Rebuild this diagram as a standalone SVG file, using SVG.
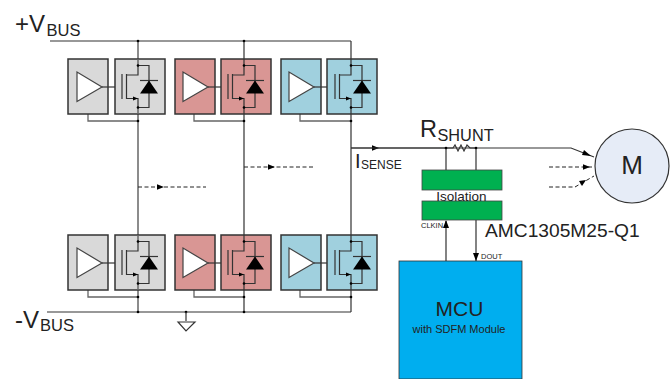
<svg xmlns="http://www.w3.org/2000/svg" xmlns:xlink="http://www.w3.org/1999/xlink" width="670" height="379" viewBox="0 0 670 379">
<style>
text{font-family:"Liberation Sans",Arial,sans-serif;fill:#222}
.w{fill:none;stroke:#333;stroke-width:1.2}
.g{fill:none;stroke:#666;stroke-width:1.5}
.box{stroke:#333;stroke-width:1.5}
.amp{fill:#fff;stroke:#444;stroke-width:1.2}
.d{fill:none;stroke:#222;stroke-width:1;stroke-dasharray:4 2.5}
.gray{fill:#d9d9d9}.red{fill:#d99694}.blue{fill:#a0d0de}
.grn{fill:#00b050;stroke:#444;stroke-width:.8}
.k{fill:#000}
</style>
<defs>
<g id="ampsym">
<path class="amp" d="M77 72V101.500L102 87Z"/>
<path class="w" d="M102 87H122"/>
</g>
<g id="fetsym">
<path class="w" d="M122 74V99M126.500 74V99M126.500 75H138V65.500H149V107.500H138V98.500H126.500"/>
<path class="w" d="M140 80.500H158"/>
<path class="k" d="M140 93.500H158L149 80.500Z"/>
<path class="k" d="M138 98.500L133 96.500V100.500Z"/>
<circle class="k" cx="138" cy="65.500" r="1.3"/>
<circle class="k" cx="138" cy="107.500" r="1.3"/>
</g>
<path id="ah" class="k" d="M0 0L-7 -2.800V2.800Z"/>
</defs>
<g id="connectors">
<path class="w" d="M50 41H351M47 312H351"/>
<path class="g" d="M138 41V312"/>
<path class="w" d="M244 41V312M351 41V312M351 148H571L594 157"/>
<path style="fill:none;stroke:#666;stroke-width:1.3" d="M88 114V121H138M194 114V121H244M300 114V121H351M88 290V297H138M194 290V297H244M300 290V297H351"/>
<path class="d" d="M138 187H206M244 167H313M549 167H594M549 187H575L594 176"/>
<use href="#ah" x="164" y="187"/>
<use href="#ah" x="275" y="167"/>
<use href="#ah" x="379" y="148"/>
<path class="k" d="M591 156L582 155L584 150Z"/>
<use href="#ah" x="590" y="167"/>
<path class="k" d="M586 180L579 181L582 186Z"/>
<path class="w" d="M446 148V170M476 148V170M446 261V221M476 220V261M351 148H453L455 145L458 151L461 145L464 151L467 145L470 148H476"/>
<path class="k" d="M446 220L443 228H449ZM476 261L473 253H479Z"/>
<circle class="k" cx="446" cy="148" r="1.3"/>
<circle class="k" cx="476" cy="148" r="1.3"/>
<circle class="k" cx="138" cy="41" r="1.3"/>
<circle class="k" cx="244" cy="41" r="1.3"/>
<circle class="k" cx="138" cy="312" r="1.3"/>
<circle class="k" cx="244" cy="312" r="1.3"/>
<circle class="k" cx="138" cy="121" r="1.3"/>
<circle class="k" cx="244" cy="121" r="1.3"/>
<circle class="k" cx="351" cy="121" r="1.3"/>
<circle class="k" cx="138" cy="297" r="1.3"/>
<circle class="k" cx="244" cy="297" r="1.3"/>
<circle class="k" cx="351" cy="297" r="1.3"/>
<circle class="k" cx="186" cy="312" r="1.3"/>
</g>
<g id="gate-top-a"><rect class="box gray" x="68" y="59" width="40" height="55"/><use href="#ampsym"/></g>
<g id="fet-top-a"><rect class="box gray" x="115" y="59" width="50" height="55"/><path class="g" d="M138 59V65M138 107V114"/><use href="#fetsym"/></g>
<g id="gate-top-b"><rect class="box red" x="175" y="59" width="40" height="55"/><use href="#ampsym" x="106"/></g>
<g id="fet-top-b"><rect class="box red" x="221" y="59" width="50" height="55"/><path class="w" d="M244 59V65M244 107V114"/><use href="#fetsym" x="106"/></g>
<g id="gate-top-c"><rect class="box blue" x="281" y="59" width="40" height="55"/><use href="#ampsym" x="212"/></g>
<g id="fet-top-c"><rect class="box blue" x="327" y="59" width="50" height="55"/><path class="w" d="M351 59V65M351 107V114"/><use href="#fetsym" x="213"/></g>
<g id="gate-bot-a"><rect class="box gray" x="68" y="235" width="40" height="55"/><use href="#ampsym" y="176"/></g>
<g id="fet-bot-a"><rect class="box gray" x="115" y="235" width="50" height="55"/><path class="g" d="M138 235V241M138 283V290"/><use href="#fetsym" y="176"/></g>
<g id="gate-bot-b"><rect class="box red" x="175" y="235" width="40" height="55"/><use href="#ampsym" x="106" y="176"/></g>
<g id="fet-bot-b"><rect class="box red" x="221" y="235" width="50" height="55"/><path class="w" d="M244 235V241M244 283V290"/><use href="#fetsym" x="106" y="176"/></g>
<g id="gate-bot-c"><rect class="box blue" x="281" y="235" width="40" height="55"/><use href="#ampsym" x="212" y="176"/></g>
<g id="fet-bot-c"><rect class="box blue" x="327" y="235" width="50" height="55"/><path class="w" d="M351 235V241M351 283V290"/><use href="#fetsym" x="213" y="176"/></g>
<g id="ground"><path class="w" d="M186 312V321M178 322H195L186 331Z"/></g>
<g id="labels">
<text x="15" y="32" font-size="24">+V</text><text x="46.500" y="36" font-size="16.500">BUS</text>
<text x="15" y="328" font-size="24">-V</text><text x="40" y="331" font-size="16.500">BUS</text>
<text x="420" y="137" font-size="23.500">R</text><text x="437.500" y="141" font-size="16.300">SHUNT</text>
<text x="355" y="168" font-size="20">I</text><text x="361" y="169" font-size="12">SENSE</text>
<text x="485" y="237" font-size="19.200">AMC1305M25-Q1</text>
</g>
<g id="isolation">
<rect class="grn" x="422" y="170" width="80" height="20"/>
<rect class="grn" x="422" y="201" width="80" height="19"/>
<text x="461.500" y="201" font-size="13.500" text-anchor="middle">Isolation</text>
<text x="421" y="228" font-size="7.500">CLKIN</text>
<text x="481" y="259" font-size="7.500">DOUT</text>
</g>
<g id="mcu">
<rect x="399" y="261" width="123" height="118" fill="#00aeef" stroke="#333" stroke-width=".8"/>
<text x="459.500" y="316" font-size="21" text-anchor="middle">MCU</text>
<text x="459" y="333" font-size="11" text-anchor="middle">with SDFM Module</text>
</g>
<g id="motor">
<circle cx="632" cy="166" r="37" fill="#e6ecf7" stroke="#333" stroke-width="1.2"/>
<text x="632" y="174" font-size="26" text-anchor="middle">M</text>
</g>
</svg>
